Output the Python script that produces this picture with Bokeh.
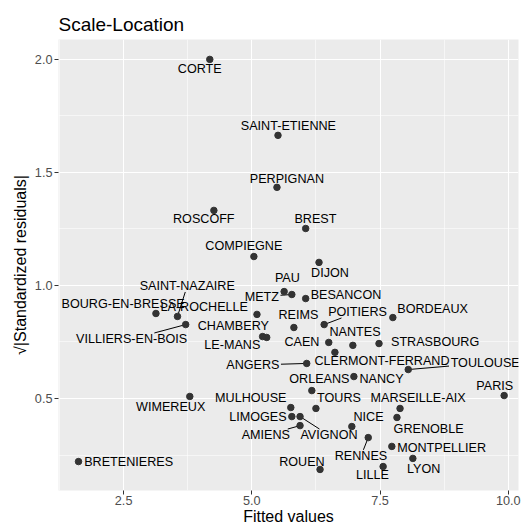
from bokeh.plotting import figure
from bokeh.models import ColumnDataSource, Range1d, FixedTicker
from bokeh.core.properties import value
from bokeh.embed import file_html
from bokeh.resources import INLINE

# ---- data ----
names = ["CORTE", "SAINT-ETIENNE", "PERPIGNAN", "ROSCOFF", "BREST", "COMPIEGNE", "DIJON",
         "PAU", "METZ", "BESANCON", "BOURG-EN-BRESSE", "SAINT-NAZAIRE", "LA-ROCHELLE",
         "VILLIERS-EN-BOIS", "CHAMBERY", "LE-MANS", "REIMS", "POITIERS", "BORDEAUX", "CAEN",
         "NANTES", "STRASBOURG", "CLERMONT-FERRAND", "ANGERS", "TOULOUSE", "ORLEANS", "NANCY",
         "PARIS", "WIMEREUX", "MULHOUSE", "TOURS", "MARSEILLE-AIX", "LIMOGES", "AVIGNON",
         "AMIENS", "NICE", "GRENOBLE", "RENNES", "MONTPELLIER", "LYON", "ROUEN", "LILLE",
         "BRETENIERES"]
fitted = [4.18, 5.51, 5.49, 4.26, 6.05, 5.04, 6.31,
          5.63, 5.78, 6.05, 3.13, 3.55, 5.10,
          3.71, 5.29, 5.21, 5.82, 6.41, 7.75, 6.50,
          6.97, 7.48, 6.62, 6.07, 8.05, 6.17, 6.99,
          9.92, 3.79, 5.76, 6.25, 7.89, 5.78, 5.94,
          5.94, 6.95, 7.83, 7.27, 7.73, 8.14, 6.33, 7.56,
          1.62]
sqrt_std_resid = [2.000, 1.664, 1.434, 1.332, 1.252, 1.128, 1.102,
                  0.973, 0.960, 0.942, 0.876, 0.863, 0.872,
                  0.827, 0.770, 0.774, 0.814, 0.827, 0.858, 0.748,
                  0.735, 0.743, 0.704, 0.655, 0.628, 0.535, 0.597,
                  0.513, 0.509, 0.460, 0.456, 0.456, 0.420, 0.420,
                  0.380, 0.376, 0.416, 0.327, 0.288, 0.235, 0.186, 0.199,
                  0.221]
# repelled label positions (data units)
label_x = [3.984, 5.713, 5.684, 4.063, 6.240, 4.844, 6.523,
           5.693, 5.195, 6.836, 2.490, 3.740, 4.072,
           2.656, 4.639, 4.619, 5.908, 7.061, 8.525, 5.977,
           7.012, 8.574, 7.539, 5.020, 9.550, 6.318, 7.529,
           9.736, 3.418, 4.980, 6.699, 8.242, 5.117, 6.504,
           5.273, 7.275, 8.447, 7.129, 8.701, 8.350, 5.977, 7.354,
           2.598]
label_y = [1.956, 1.704, 1.473, 1.292, 1.296, 1.173, 1.055,
           1.033, 0.951, 0.960, 0.916, 0.998, 0.905,
           0.763, 0.819, 0.737, 0.869, 0.883, 0.896, 0.750,
           0.794, 0.750, 0.666, 0.648, 0.657, 0.588, 0.588,
           0.555, 0.462, 0.502, 0.502, 0.500, 0.418, 0.338,
           0.338, 0.418, 0.365, 0.246, 0.279, 0.190, 0.219, 0.162,
           0.219]
segment_names = ["SAINT-NAZAIRE", "VILLIERS-EN-BOIS", "METZ", "POITIERS", "ANGERS",
                 "TOULOUSE", "AMIENS", "AVIGNON", "RENNES"]
x_ticks = [2.5, 5.0, 7.5, 10.0]
x_tick_labels = ["2.5", "5.0", "7.5", "10.0"]
y_ticks = [0.5, 1.0, 1.5, 2.0]
y_tick_labels = ["0.5", "1.0", "1.5", "2.0"]

FONT = "Liberation Sans"
LABEL_PX = 12.6

# approximate Arial advance widths (per em) to size label boxes for segments
W = {c: 0.667 for c in "ABEKPSVXY"}
W.update({"C": 0.722, "D": 0.722, "H": 0.722, "N": 0.722, "R": 0.722, "U": 0.722,
          "F": 0.611, "T": 0.611, "Z": 0.611, "G": 0.778, "O": 0.778, "Q": 0.778,
          "I": 0.278, "J": 0.5, "L": 0.556, "M": 0.833, "W": 0.944, "-": 0.333, " ": 0.278})

x_range = Range1d(1.23, 10.2)
y_range = Range1d(0.093, 2.088)

p = figure(width=522, height=527, x_range=x_range, y_range=y_range,
           output_backend="svg", toolbar_location=None,
           title="Scale-Location",
           min_border_left=58, min_border_right=4, min_border_top=39, min_border_bottom=30)

# pixel-per-unit estimate for label boxes
ppx = 460 / (10.2 - 1.23)
ppy = 445 / (2.088 - 0.093)

sx0, sy0, sx1, sy1 = [], [], [], []
for n, x, y, lx, ly in zip(names, fitted, sqrt_std_resid, label_x, label_y):
    if n not in segment_names:
        continue
    w = sum(W.get(c, 0.667) for c in n) * LABEL_PX
    hw, hh = w / 2 + 1.5, 6.0
    dx, dy = (lx - x) * ppx, (ly - y) * ppy
    t = min(hw / abs(dx) if dx else 1e9, hh / abs(dy) if dy else 1e9)
    t = min(t, 1.0)
    sx0.append(x)
    sy0.append(y)
    sx1.append(lx - t * (lx - x))
    sy1.append(ly - t * (ly - y))

p.segment(x0=sx0, y0=sy0, x1=sx1, y1=sy1, line_color="black", line_width=1)

src = ColumnDataSource(dict(x=fitted, y=sqrt_std_resid, lx=label_x, ly=label_y, name=names))
p.scatter(x="x", y="y", source=src, size=6.5, fill_color="#333333", line_color="#333333")
p.text(x="lx", y="ly", text="name", source=src, text_align="center", text_baseline="middle",
       text_font=value(FONT), text_font_size=f"{LABEL_PX}px", text_color="black")

# styling like ggplot2 theme_gray
p.background_fill_color = "#EBEBEB"
p.border_fill_color = "white"
p.outline_line_color = None

p.xaxis.ticker = FixedTicker(ticks=x_ticks, minor_ticks=[1.25, 3.75, 6.25, 8.75])
p.yaxis.ticker = FixedTicker(ticks=y_ticks, minor_ticks=[0.25, 0.75, 1.25, 1.75])
p.xaxis.major_label_overrides = dict(zip(x_ticks, x_tick_labels))
p.yaxis.major_label_overrides = dict(zip(y_ticks, y_tick_labels))

for g in (p.xgrid, p.ygrid):
    g.grid_line_color = "white"
    g.grid_line_width = 1.1
    g.minor_grid_line_color = "white"
    g.minor_grid_line_width = 0.55

for ax in (p.xaxis, p.yaxis):
    ax.axis_line_color = None
    ax.major_tick_line_color = "#333333"
    ax.major_tick_out = 4
    ax.major_tick_in = 0
    ax.minor_tick_line_color = None
    ax.major_label_text_font = FONT
    ax.major_label_text_font_size = "12.7px"
    ax.major_label_text_color = "#4D4D4D"
    ax.axis_label_text_font = FONT
    ax.axis_label_text_font_size = "16px"
    ax.axis_label_text_font_style = "normal"
    ax.axis_label_text_color = "black"

p.xaxis.major_label_standoff = 1
p.xaxis.axis_label_standoff = 0
p.yaxis.major_label_standoff = 2
p.yaxis.axis_label_standoff = 3

p.xaxis.axis_label = "Fitted values"
p.yaxis.axis_label = "√|Standardized residuals|"

p.title.text_font = FONT
p.title.text_font_size = "19px"
p.title.text_font_style = "normal"
p.title.text_color = "black"
p.title.align = "left"

open("out.html", "w").write(file_html(p, INLINE))
